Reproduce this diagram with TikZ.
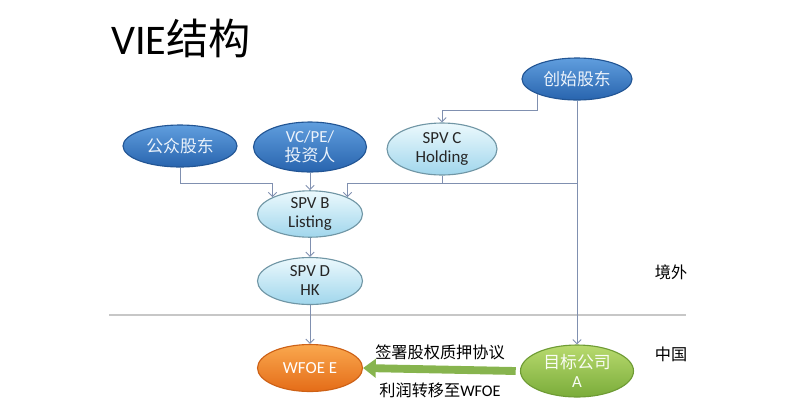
\documentclass[tikz,border=0pt]{standalone}
\usepackage{fontspec}
\setmainfont{Carlito}
\newfontfamily\cjk{Noto Sans CJK SC}
\usepackage{xcolor}
\usetikzlibrary{shapes.geometric,arrows.meta,calc}
\definecolor{C0}{RGB}{96,158,222}    % dark blue, top
\definecolor{C1}{RGB}{40,100,174}    % dark blue, bottom
\definecolor{C2}{RGB}{236,249,253}   % light blue, top
\definecolor{C3}{RGB}{160,214,236}   % light blue, bottom
\definecolor{C4}{RGB}{250,168,78}    % orange, top
\definecolor{C5}{RGB}{228,108,24}    % orange, bottom
\definecolor{C6}{RGB}{184,218,110}   % green, top
\definecolor{C7}{RGB}{122,172,58}    % green, bottom
\definecolor{C8}{RGB}{128,144,176}   % connectors
\newcommand\pxu{0.025cm}

\tikzset{
  bubble/.style={ellipse, inner sep=0pt, align=center, draw, line width=0.8pt,
    font=\fontsize{12}{13.5}\selectfont},
  darkbubble/.style={bubble, top color=C0, bottom color=C1, draw=C1!85!black, text=white!88!C0},
  lightbubble/.style={bubble, top color=C2, bottom color=C3, draw=C3!70!black, text=black!85},
  orangebubble/.style={bubble, top color=C4, bottom color=C5, draw=C5!90!black, text=white},
  greenbubble/.style={bubble, top color=C6, bottom color=C7, draw=C7!90!black, text=white!92!C6},
  link/.style={draw=C8, line width=0.7pt},
  conn/.style={link, -{Straight Barb[length=3pt,width=6pt]}},
  side/.style={anchor=west, font=\fontsize{11.5}{13}\selectfont\cjk},
}

\begin{document}
\begin{tikzpicture}[x=\pxu, y=-\pxu]
  \useasboundingbox (0,0) rectangle (800,410);

  % Title.
  \node[anchor=west, inner sep=0pt, font=\fontsize{30}{33}\selectfont] (title) at (111,38) {VIE{\cjk 结构}};

  % Offshore shareholders.
  \node[darkbubble, minimum width=114*\pxu, minimum height=42*\pxu] (gzgd) at (180,146) {\cjk 公众股东};
  \node[darkbubble, minimum width=113*\pxu, minimum height=50*\pxu] (vcpe) at (310,147) {VC/PE/\\{\cjk 投资人}};
  \node[lightbubble, minimum width=110*\pxu, minimum height=52*\pxu] (spvc) at (442,149) {SPV C\\Holding};
  \node[darkbubble, minimum width=110*\pxu, minimum height=42*\pxu] (cs) at (577,79) {\cjk 创始股东};

  % Offshore vehicles.
  \node[lightbubble, minimum width=105*\pxu, minimum height=42*\pxu] (spvb) at (310,214) {SPV B\\Listing};
  \node[lightbubble, minimum width=105*\pxu, minimum height=47*\pxu] (spvd) at (310,281) {SPV D\\HK};

  % Onshore.
  \node[orangebubble, minimum width=105*\pxu, minimum height=47*\pxu] (wfoe) at (310,368) {WFOE E};
  \node[greenbubble, minimum width=113*\pxu, minimum height=52*\pxu] (mbgs) at (577,371) {{\cjk 目标公司}\\A};

  % Border line.
  \draw[draw=black!22, line width=1pt] (109,315) -- (686,315);
  \node[side] (jw) at (650,272) {境外};
  \node[side] (zg) at (650,354) {中国};

  % Shareholding lines.
  \coordinate (bus) at ($(spvc.south)+(0,8)$);
  \draw[conn] (gzgd.south) -- ++(0,16) -| (spvb.north west);
  \draw[conn] (vcpe.south) -- (spvb.north);
  \draw[conn] (spvc.south) -- (bus) -| (spvb.north east);
  \draw[link] (bus -| cs.south) -- (bus);
  \draw[conn] (cs.south west) -- ++(0,16) -| (spvc.north);
  \draw[conn] (cs.south) -- (mbgs.north);
  \draw[conn] (spvb.south) -- (spvd.north);
  \draw[conn] (spvd.south) -- (wfoe.north);

  % Control agreements.
  \draw[draw=C7!90!white, line width=5.6pt, -{Triangle[length=9pt,width=13pt]}]
    ([xshift=-3pt]mbgs.west) -- (wfoe.east);
  \node[font=\fontsize{11.5}{13}\selectfont\cjk] (sign) at (440,352) {签署股权质押协议};
  \node[font=\fontsize{11.5}{13}\selectfont] (profit) at (440,390) {{\cjk 利润转移至}WFOE};

\end{tikzpicture}
\end{document}
